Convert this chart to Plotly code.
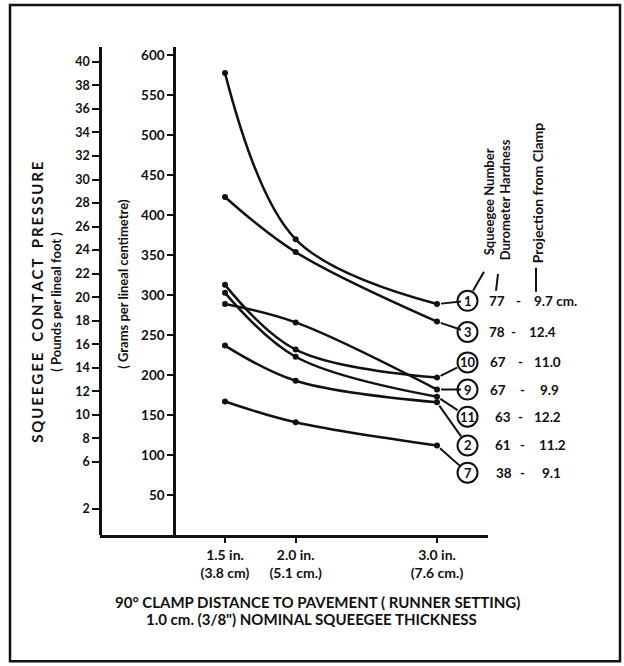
import plotly.graph_objects as go

# ---------------- data ----------------
distance_in = [1.5, 2.0, 3.0]
x_tick_text = ["1.5 in.<br>(3.8 cm)", "2.0 in.<br>(5.1 cm.)", "3.0 in.<br>(7.6 cm.)"]

squeegee_ids = ["1", "3", "10", "9", "11", "2", "7"]
hardness = ["77", "78", "67", "67", "63", "61", "38"]
projection = ["9.7 cm.", "12.4", "11.0", "9.9", "12.2", "11.2", "9.1"]

# contact pressure, grams per lineal centimetre, at 1.5 / 2.0 / 3.0 in.
sq1 = [578, 370, 289]
sq3 = [423, 354, 267]
sq10 = [313, 232, 197]
sq9 = [289, 266, 182]
sq11 = [303, 223, 173]
sq2 = [237, 193, 166]
sq7 = [167, 141, 112]
series = [sq1, sq3, sq10, sq9, sq11, sq2, sq7]

gram_ticks = [50, 100, 150, 200, 250, 300, 350, 400, 450, 500, 550, 600]
pound_ticks = [2, 6, 8, 10, 12, 14, 16, 18, 20, 22, 24, 26, 28, 30, 32, 34, 36, 38, 40]

# ---------------- layout helpers ----------------
WIDTH, HEIGHT = 624, 666
L, R, T, B = 100, 488, 47, 535.5
PW, PH = R - L, B - T


def px(x):
    return (x - L) / PW


def py(y):
    return 1 - (y - T) / PH


FONT = "Lato"
INK = "#111111"
TS = "\u2009"  # thin space for letter spacing


def spaced(word):
    return TS.join(list(word))


fig = go.Figure()

for vals in series:
    fig.add_trace(go.Scatter(
        x=distance_in, y=vals, mode="lines+markers",
        line=dict(color=INK, width=2.5, shape="spline", smoothing=1.0),
        marker=dict(color=INK, size=6),
        showlegend=False, hoverinfo="skip", yaxis="y",
    ))

# invisible trace to activate the pounds axis
fig.add_trace(go.Scatter(x=[distance_in[0]], y=[20], yaxis="y2", mode="markers",
                         marker=dict(opacity=0), showlegend=False, hoverinfo="skip"))

# label column (circle) positions, in gram units on the y axis
label_x = 3.216
label_y = [293, 254, 216, 182, 148, 112, 78]
hard_x = [487, 487, 488, 488, 493, 493, 494]
dash_x = [518, 513, 520, 522, 520, 522, 522]
proj_x = [532, 527, 532, 538, 532, 537, 540]

shapes = []
annotations = []
for i, sid in enumerate(squeegee_ids):
    shapes.append(dict(type="circle", xref="x", yref="y", xsizemode="pixel", ysizemode="pixel",
                       xanchor=label_x, yanchor=label_y[i], x0=-10, x1=10, y0=-10, y1=10,
                       line=dict(color=INK, width=2)))
    annotations.append(dict(x=distance_in[-1], y=series[i][-1], xref="x", yref="y",
                            ax=label_x, ay=label_y[i], axref="x", ayref="y",
                            text="<b>%s</b>" % sid, showarrow=True, arrowhead=0,
                            arrowwidth=2, arrowcolor=INK, standoff=4, borderpad=2,
                            font=dict(family=FONT, size=13, color=INK)))
    annotations.append(dict(x=px(hard_x[i]), y=label_y[i], xref="paper", yref="y",
                            text="<b>%s</b>" % hardness[i], showarrow=False,
                            xanchor="left", yanchor="middle",
                            font=dict(family=FONT, size=13.5, color=INK)))
    annotations.append(dict(x=px(dash_x[i]), y=label_y[i], xref="paper", yref="y",
                            text="<b>-</b>", showarrow=False, xanchor="center", yanchor="middle",
                            font=dict(family=FONT, size=13.5, color=INK)))
    annotations.append(dict(x=px(proj_x[i]), y=label_y[i], xref="paper", yref="y",
                            text="<b>%s</b>" % projection[i], showarrow=False,
                            xanchor="left", yanchor="middle",
                            font=dict(family=FONT, size=13.5, color=INK)))

# column headers
for txt, xx, yy, fs in [("Squeegee Number", 489, 258, 13), ("Durometer Hardness", 505, 263, 13),
                        ("Projection from Clamp", 537, 266, 14)]:
    annotations.append(dict(x=px(xx), y=py(yy), xref="paper", yref="paper", text="<b>%s</b>" % txt,
                            textangle=-90, showarrow=False, xanchor="center", yanchor="bottom",
                            font=dict(family=FONT, size=fs, color=INK)))
for x0, y0, x1, y1 in [(473, 291, 484, 272), (496, 291, 498, 274), (536, 292, 536, 268)]:
    shapes.append(dict(type="line", xref="paper", yref="paper", x0=px(x0), y0=py(y0),
                       x1=px(x1), y1=py(y1), line=dict(color=INK, width=2)))

# axis titles
main_title = "   ".join(spaced(w) for w in ["SQUEEGEE", "CONTACT", "PRESSURE"])
titles = [
    (37, 302, -90, "<b>%s</b>" % main_title, 15),
    (56, 302, -90, "<b>( Pounds per lineal foot )</b>", 13),
    (123, 284, -90, "<b>( Grams per lineal centimetre)</b>", 13),
    (317, 603, 0, "<b>90° CLAMP DISTANCE TO PAVEMENT ( RUNNER SETTING)</b>", 15),
    (311, 620, 0, "<b>1.0 cm. (3/8\") NOMINAL SQUEEGEE THICKNESS</b>", 15),
]
for xx, yy, ang, txt, fs in titles:
    annotations.append(dict(x=px(xx), y=py(yy), xref="paper", yref="paper", textangle=ang,
                            showarrow=False, xanchor="center", yanchor="middle", text=txt,
                            font=dict(family=FONT, size=fs, color=INK)))

# outer frame
shapes.append(dict(type="rect", xref="paper", yref="paper", x0=px(10), x1=px(620),
                   y0=py(662), y1=py(5), line=dict(color=INK, width=2.5), layer="below"))

x_lo = 1.5 - (225 - L) / 141.33
x_hi = 3.0 + (R - 437) / 141.33
g_top = (B - T) / 0.8
lb_lo = (B - 538) / 11.9
lb_hi = (538 - T) / 11.9

fig.update_layout(
    width=WIDTH, height=HEIGHT,
    margin=dict(l=L, r=WIDTH - R, t=T, b=HEIGHT - B),
    paper_bgcolor="white", plot_bgcolor="white",
    font=dict(family=FONT, color=INK),
    xaxis=dict(range=[x_lo, x_hi], tickvals=distance_in, ticktext=["<b>%s</b>" % t for t in x_tick_text],
               showline=True, linecolor=INK, linewidth=2.5, ticks="outside", ticklen=5,
               tickwidth=2, tickcolor=INK, showgrid=False, zeroline=False, anchor="y",
               tickfont=dict(family=FONT, size=14, color=INK)),
    yaxis=dict(range=[0, g_top], tickvals=gram_ticks, ticktext=["<b>%d</b>" % v for v in gram_ticks],
               anchor="free", position=px(174), showline=True, linecolor=INK, linewidth=2.5,
               ticks="outside", ticklen=6, tickwidth=2, tickcolor=INK, showgrid=False,
               zeroline=False, tickfont=dict(family=FONT, size=13.5, color=INK)),
    yaxis2=dict(range=[lb_lo, lb_hi], tickvals=pound_ticks, ticktext=["<b>%d</b>" % v for v in pound_ticks],
                overlaying="y", anchor="free", position=0, side="left", showline=True,
                linecolor=INK, linewidth=2.5, ticks="outside", ticklen=7, tickwidth=2,
                tickcolor=INK, showgrid=False, zeroline=False,
                tickfont=dict(family=FONT, size=12.5, color=INK)),
    shapes=shapes, annotations=annotations,
)

fig.write_html("out.html", config={"displayModeBar": False},
               post_script="document.body.style.margin='0px';")
